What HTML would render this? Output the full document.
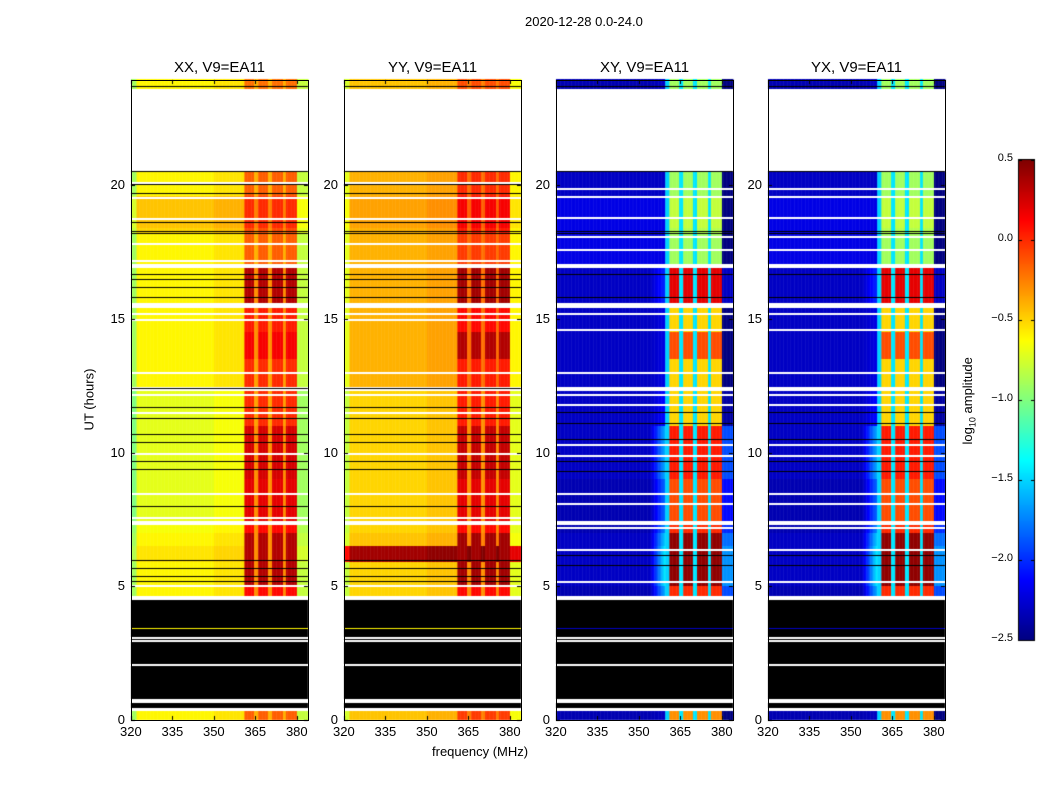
<!DOCTYPE html>
<html><head><meta charset="utf-8">
<style>
body{margin:0;background:#fff;width:1050px;height:800px;overflow:hidden;position:relative;font-family:"Liberation Sans",sans-serif;color:#000}
.t{position:absolute;white-space:nowrap;font-size:13px}
.pt{position:absolute;font-size:15px;text-align:center;width:177px}
.frame{position:absolute;border:1px solid #000;box-sizing:border-box}
canvas{position:absolute;left:0;top:0}
</style></head>
<body>
<canvas id="cv" width="1050" height="800"></canvas>
<div class="t" style="left:525px;top:14px">2020-12-28 0.0-24.0</div>
<div class="t" style="left:432px;top:744px">frequency (MHz)</div>
<div class="t" style="left:58px;top:392px;transform:rotate(-90deg)">UT (hours)</div>
<div class="t" style="left:925px;top:392px;transform:rotate(-90deg)">log<sub style="font-size:9px">10</sub> amplitude</div>
<div id="labels"></div>
<script>
// ---- data ----
const panelTitles = ["XX, V9=EA11","YY, V9=EA11","XY, V9=EA11","YX, V9=EA11"];
const xTicks = [320,335,350,365,380];
const yTicks = [0,5,10,15,20];
const cbTicks = [0.5,0.0,-0.5,-1.0,-1.5,-2.0,-2.5];
const rfiBands = [[360.8,364.4],[366,369.6],[370.8,374.8],[375.8,379.8]];
// time segments (hours); kind: d=data, w=white(flagged), k=black
const segStart = [0.00,0.35,0.45,4.50,4.62,5.00,5.90,6.50,7.00,7.30,7.45,9.00,11.0,12.3,12.45,13.5,14.5,15.4,15.6,16.9,17.05,18.2,18.4,19.6,20.5,23.6];
const segEnd   = [0.35,0.45,4.50,4.62,5.00,5.90,6.50,7.00,7.30,7.45,9.00,11.0,12.3,12.45,13.5,14.5,15.4,15.6,16.9,17.05,18.2,18.4,19.6,20.5,23.6,23.95];
const segKind  = ["d","w","k","w","d","d","d","d","d","w","d","d","d","w","d","d","d","w","d","w","d","d","d","d","w","d"];
const xxRfi    = [-0.15,0,0,0,0.1,0.35,0.35,0.35,0.1,0,0.2,0.25,0.0,0,0.0,0.15,0.05,0,0.35,0,-0.15,-0.1,0.0,-0.15,0,-0.2];
const yyRfi    = [-0.05,0,0,0,0.1,0.4,0.4,0.4,0.1,0,0.2,0.3,0.05,0,0.05,0.35,0.1,0,0.4,0,-0.05,0.05,0.15,0.0,0,-0.1];
const crRfi    = [-0.3,0,0,0,0.0,0.45,0.45,0.45,0.0,0,-0.1,0.05,-0.5,0,-0.5,-0.1,-0.5,0,0.2,0,-0.9,-0.85,-0.8,-0.9,0,-0.9];
const xxBase   = [-0.6,0,0,0,-0.6,-0.6,-0.55,-0.6,-0.65,0,-0.7,-0.7,-0.7,0,-0.6,-0.6,-0.6,0,-0.6,0,-0.6,-0.5,-0.45,-0.6,0,-0.6];
const yyBase   = [-0.45,0,0,0,-0.5,-0.5,0.4,-0.45,-0.5,0,-0.5,-0.5,-0.5,0,-0.4,-0.4,-0.4,0,-0.4,0,-0.4,-0.4,-0.35,-0.4,0,-0.45];
const crBase   = [-2.35,0,0,0,-2.35,-2.3,-2.3,-2.3,-2.35,0,-2.35,-2.3,-2.3,0,-2.3,-2.3,-2.3,0,-2.3,0,-2.2,-2.2,-2.2,-2.3,0,-2.35];
const crHalo   = [-2.3,0,0,0,-1.6,-1.4,-1.4,-1.5,-1.7,0,-1.8,-1.6,-2.1,0,-2.2,-2.2,-2.2,0,-2.0,0,-2.2,-2.2,-2.2,-2.3,0,-2.3];
const blackLinesXX = [23.7,20.53,20.04,19.7,18.6,18.29,18.22,16.67,16.5,16.2,15.8,12.4,11.7,11.3,10.7,10.4,9.7,9.4,8.0,6.0,5.7,5.4,5.2];
const whiteLines   = [20.12,19.55,18.75,17.83,17.2,15.2,14.98,13.0,12.2,11.5,10.0,8.5,7.6,5.05,3.1,3.0,2.1,0.8,0.7];
const blackLinesCR = [23.7,20.53,18.29,18.22,16.67,15.8,11.5,11.1,10.5,9.7,9.3,6.15,5.8];
const whiteLinesCR = [19.9,19.6,18.8,18.1,17.6,15.2,14.6,13.0,12.2,11.8,10.3,9.9,8.5,8.1,7.2,6.4,5.2,3.1,3.0,2.1,0.8,0.7];
const dataLineHours = [3.45];
// ---- scales ----
const panelX = [131,344,556,768], PW=177, Y0=720, YT=80;
function xScale(p,f){return panelX[p]+(f-320)*PW/64;}
function yScale(h){return Y0-h*26.75;}
function jet(v){
  let t=(Math.max(-2.5,Math.min(0.5,v))+2.5)/3;
  const c=x=>Math.round(255*Math.max(0,Math.min(1,1.5-Math.abs(4*t-x))));
  return `rgb(${c(3)},${c(2)},${c(1)})`;
}
function inBand(f){return rfiBands.some(b=>f>=b[0]&&f<b[1]);}
function val(p,s,f){
  const cross=p>=2;
  if(!cross){
    const rfi=p==0?xxRfi[s]:yyRfi[s], base=p==0?xxBase[s]:yyBase[s];
    if(inBand(f)) return rfi;
    if(f>=364.4&&f<379.8) return Math.max(base+0.2,Math.min(rfi-0.35,-0.3));
    if(f>=379.8) return base-0.2;
    if(f<322) return base-0.3;
    if(f>=350&&f<360.8) return base+0.05;
    return base;
  } else {
    if(inBand(f)) return crRfi[s];
    if(f>=364.4&&f<379.8) return -1.45;
    if(f>=359.5&&f<360.8) return -1.5;
    if(f>=379.8) return crHalo[s]-0.3;
    if(f>=354&&f<359.5) return crHalo[s]+(crBase[s]-crHalo[s])*(359.5-f)/5.5;
    return crBase[s];
  }
}
const ctx=document.getElementById('cv').getContext('2d');
for(let p=0;p<4;p++){
  for(let s=0;s<segStart.length;s++){
    const y1=Math.round(yScale(segEnd[s])), y2=Math.round(yScale(segStart[s]));
    if(segKind[s]=='w'){ctx.fillStyle='#fff';ctx.fillRect(panelX[p],y1,PW,y2-y1);continue;}
    if(segKind[s]=='k'){ctx.fillStyle='#000';ctx.fillRect(panelX[p],y1,PW,y2-y1);continue;}
    for(let f=320;f<384;f+=0.5){
      ctx.fillStyle=jet(val(p,s,f+0.25));
      const xa=xScale(p,f), xb=xScale(p,f+0.5);
      ctx.fillRect(xa,y1,xb-xa+0.5,y2-y1);
    }
  }
  const cross=p>=2;
  dataLineHours.forEach(h=>{ctx.fillStyle=jet(cross?-2.3:-0.6);ctx.fillRect(panelX[p],Math.round(yScale(h)),PW,1);});
  (cross?blackLinesCR:blackLinesXX).forEach(h=>{ctx.fillStyle='#000';ctx.fillRect(panelX[p],Math.round(yScale(h)),PW,1);});
  (cross?whiteLinesCR:whiteLines).forEach(h=>{ctx.fillStyle='#fff';ctx.fillRect(panelX[p],Math.round(yScale(h)),PW,2);});
  ctx.fillStyle='#000';
  xTicks.forEach(t=>{const x=Math.round(xScale(p,t));ctx.fillRect(x,Y0-4,1,4);ctx.fillRect(x,YT,1,4);});
  yTicks.forEach(t=>{const y=Math.round(yScale(t));ctx.fillRect(panelX[p],y,4,1);ctx.fillRect(panelX[p]+PW-4,y,4,1);});
}
// colorbar
for(let i=0;i<480;i++){ctx.fillStyle=jet(0.5-3*i/480);ctx.fillRect(1019,160+i,15,1);}
ctx.fillStyle='#000';
cbTicks.forEach(v=>{const y=Math.round(160+(0.5-v)*160);ctx.fillRect(1019,y,3,1);ctx.fillRect(1031,y,3,1);});
ctx.strokeStyle='#000';ctx.lineWidth=1;ctx.strokeRect(1018.5,159.5,16,481);
// HTML labels
const L=document.getElementById('labels');
function add(txt,css,name){const d=document.createElement('div');d.className='t';d.style.cssText=css;d.textContent=txt;


L.appendChild(d);return d;}
for(let p=0;p<4;p++){
  const f=document.createElement('div');f.className='frame';
  f.style.cssText=`left:${panelX[p]}px;top:${YT}px;width:${PW+1}px;height:${Y0-YT+1}px`;
  
  
  L.appendChild(f);
  const t=document.createElement('div');t.className='pt';t.textContent=panelTitles[p];
  t.style.cssText=`left:${panelX[p]}px;top:59px`;
  
  
  L.appendChild(t);
  xTicks.forEach(v=>add(String(v),`left:${xScale(p,v)-11}px;top:724px`,'x-tick-label'));
  yTicks.forEach(v=>add(String(v),`left:${panelX[p]-30}px;width:24px;text-align:right;top:${yScale(v)-8}px`,'y-tick-label'));
}
cbTicks.forEach(v=>add((v<0?'\u2212'+Math.abs(v).toFixed(1):v.toFixed(1)),`left:973px;width:40px;text-align:right;top:${160+(0.5-v)*160-8}px;font-size:11px`,'colorbar-tick-label'));
</script>
</body></html>
